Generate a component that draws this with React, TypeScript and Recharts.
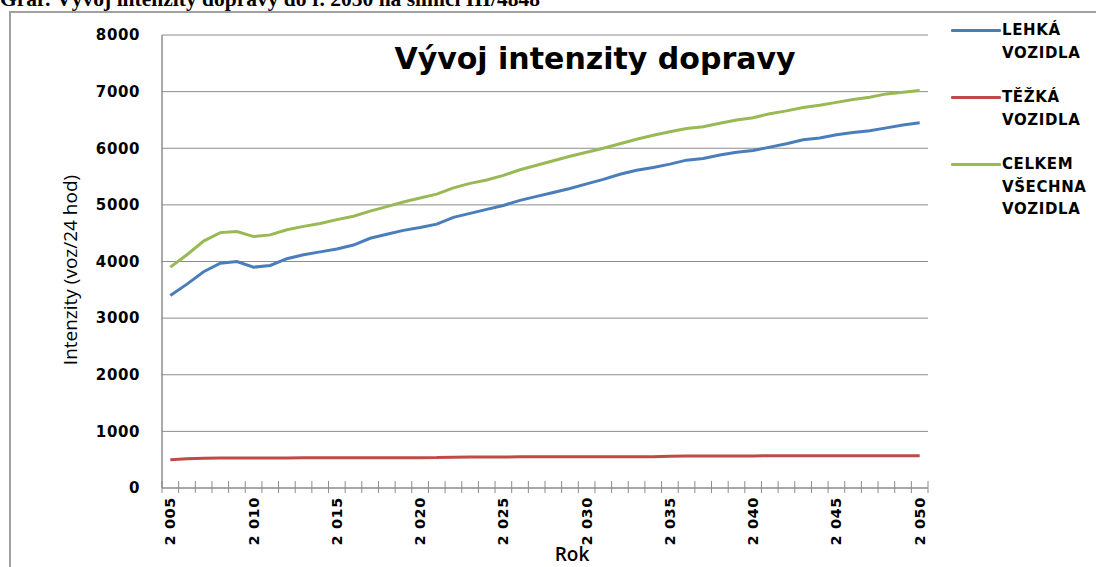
import React from "react";
import { LineChart, Line, XAxis, YAxis, CartesianGrid } from "recharts";

const years = [
  2005, 2006, 2007, 2008, 2009, 2010, 2011, 2012, 2013, 2014,
  2015, 2016, 2017, 2018, 2019, 2020, 2021, 2022, 2023, 2024,
  2025, 2026, 2027, 2028, 2029, 2030, 2031, 2032, 2033, 2034,
  2035, 2036, 2037, 2038, 2039, 2040, 2041, 2042, 2043, 2044,
  2045, 2046, 2047, 2048, 2049, 2050,
];

const lehkaVozidla = [
  3400, 3600, 3820, 3970, 4000, 3900, 3930, 4050, 4120, 4170,
  4220, 4290, 4410, 4480, 4550, 4600, 4660, 4780, 4850, 4920,
  4990, 5080, 5150, 5220, 5290, 5370, 5450, 5540, 5610, 5660,
  5720, 5790, 5820, 5880, 5930, 5960, 6020, 6080, 6150, 6180,
  6240, 6280, 6310, 6360, 6410, 6450,
];

const tezkaVozidla = [
  500, 515, 525, 530, 532, 532, 532, 532, 533, 533,
  533, 534, 534, 535, 535, 536, 537, 545, 548, 548,
  549, 550, 550, 551, 551, 552, 552, 553, 553, 554,
  562, 565, 566, 566, 567, 567, 568, 568, 568, 569,
  569, 569, 570, 570, 570, 571,
];

const celkemVozidla = [
  3900, 4120, 4360, 4510, 4530, 4440, 4470, 4560, 4620, 4670,
  4740, 4800, 4890, 4970, 5050, 5120, 5190, 5300, 5380, 5440,
  5520, 5620, 5700, 5780, 5860, 5930, 6000, 6080, 6160, 6230,
  6290, 6350, 6380, 6440, 6500, 6540, 6610, 6660, 6720, 6760,
  6810, 6860, 6900, 6960, 6990, 7020,
];

const labelYears = [2005, 2010, 2015, 2020, 2025, 2030, 2035, 2040, 2045, 2050];
const yTicks = [0, 1000, 2000, 3000, 4000, 5000, 6000, 7000, 8000];

const seriesKeys = ["lehka", "tezka", "celkem"];
const seriesNames = ["LEHKÁ VOZIDLA", "TĚŽKÁ VOZIDLA", "CELKEM VŠECHNA VOZIDLA"];
const colors = ["#4A7EBB", "#BE4B48", "#98B954"];

const headerText = "Graf: Vývoj intenzity dopravy do r. 2050 na silnici III/4848";
const chartTitle = "Vývoj intenzity dopravy";
const yAxisTitle = "Intenzity (voz/24 hod)";
const xAxisTitle = "Rok";

const data = years.map((y, i) => ({
  year: y,
  lehka: lehkaVozidla[i],
  tezka: tezkaVozidla[i],
  celkem: celkemVozidla[i],
}));

// tick marks between categories (Excel style) plus label positions
const boundaries = [years[0] - 0.5, ...years.map((y) => y + 0.5)];
const xTicks = [...boundaries, ...labelYears].sort((a, b) => a - b);

const GRID = "#8C8C8C";
const SANS = "'DejaVu Sans', Verdana, sans-serif";

const fmtYear = (v: number) =>
  `${Math.floor(v / 1000)} ${String(v % 1000).padStart(3, "0")}`;

const XTick = (props: any) => {
  const { x, y, payload } = props;
  const v = payload.value as number;
  if (!Number.isInteger(v)) {
    return <line x1={x} x2={x} y1={y - 7} y2={y + 5} stroke={GRID} strokeWidth={1} />;
  }
  const ty = y + 9;
  return (
    <text
      x={x}
      y={ty}
      transform={`rotate(-90, ${x}, ${ty})`}
      textAnchor="end"
      dominantBaseline="central"
      fontFamily={SANS}
      fontWeight="bold"
      fontSize={14.5}
      letterSpacing={0.6}
      fill="#000"
    >
      {fmtYear(v)}
    </text>
  );
};

export default function App() {
  return (
    <div style={{ position: "absolute", left: 0, top: 0, width: 1096, height: 567, overflow: "hidden", background: "#fff" }}>
      <div
        style={{
          position: "absolute",
          left: 0,
          top: -12,
          fontFamily: "'Liberation Serif', 'Times New Roman', serif",
          fontWeight: "bold",
          fontSize: 21.5,
          lineHeight: "22px",
          whiteSpace: "nowrap",
          color: "#000",
        }}
      >
        {headerText}
      </div>
      <div
        style={{
          position: "absolute",
          left: 9,
          top: 11,
          width: 1100,
          height: 600,
          borderLeft: "2px solid #A0A0A0",
          borderTop: "2px solid #A0A0A0",
        }}
      />
      <div style={{ position: "absolute", left: 0, top: 0 }}>
        <LineChart
          width={1096}
          height={567}
          data={data}
          margin={{ top: 35, right: 168, bottom: 19, left: 82 }}
        >
          <CartesianGrid vertical={false} stroke={GRID} strokeWidth={1} />
          <XAxis
            dataKey="year"
            type="number"
            domain={[years[0] - 0.5, years[years.length - 1] + 0.5]}
            ticks={xTicks}
            interval={0}
            tickLine={false}
            tickSize={0}
            tickMargin={0}
            height={60}
            axisLine={{ stroke: GRID, strokeWidth: 1 }}
            tick={<XTick />}
          />
          <YAxis
            domain={[0, 8000]}
            ticks={yTicks}
            interval={0}
            width={80}
            tickLine={false}
            tickSize={6}
            tickMargin={16}
            axisLine={{ stroke: GRID, strokeWidth: 1.5 }}
            tick={{ fontFamily: SANS, fontWeight: "bold", fontSize: 15, fill: "#000", letterSpacing: 0.6 }}
          />
          {seriesKeys.map((k, i) => (
            <Line
              key={k}
              type="linear"
              dataKey={k}
              name={seriesNames[i]}
              stroke={colors[i]}
              strokeWidth={3}
              dot={false}
              isAnimationActive={false}
            />
          ))}
        </LineChart>
      </div>
      <div
        style={{
          position: "absolute",
          left: 951,
          top: 19,
          width: 150,
          fontFamily: SANS,
          fontWeight: "bold",
          fontSize: 15,
          letterSpacing: 0.6,
          color: "#000",
        }}
      >
        {seriesNames.map((name, i) => (
          <div key={name} style={{ display: "flex", alignItems: "flex-start", marginBottom: 22 }}>
            <div style={{ width: 50, height: 3, background: colors[i], marginTop: 10, borderRadius: 1, flex: "none" }} />
            <div style={{ width: 95, lineHeight: "22.5px", marginLeft: 1 }}>{name}</div>
          </div>
        ))}
      </div>
      <div
        style={{
          position: "absolute",
          left: 380,
          top: 41,
          width: 430,
          textAlign: "center",
          fontFamily: SANS,
          fontWeight: "bold",
          fontSize: 30,
          lineHeight: "36px",
          color: "#000",
          whiteSpace: "nowrap",
        }}
      >
        {chartTitle}
      </div>
      <div
        style={{
          position: "absolute",
          left: 70,
          top: 270,
          transform: "translate(-50%, -50%) rotate(-90deg)",
          fontFamily: "'Open Sans', sans-serif",
          fontSize: 19,
          whiteSpace: "nowrap",
          color: "#000",
        }}
      >
        {yAxisTitle}
      </div>
      <div
        style={{
          position: "absolute",
          left: 572,
          top: 554,
          transform: "translate(-50%, -50%)",
          fontFamily: "'Open Sans', sans-serif",
          fontWeight: 600,
          fontSize: 19,
          lineHeight: "22px",
          whiteSpace: "nowrap",
          color: "#000",
        }}
      >
        {xAxisTitle}
      </div>
    </div>
  );
}
